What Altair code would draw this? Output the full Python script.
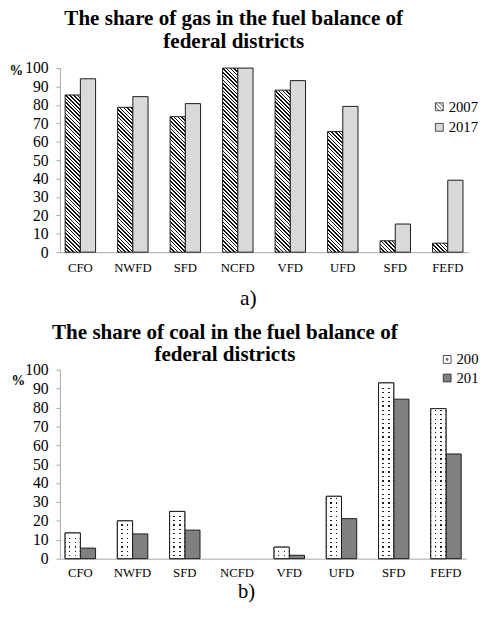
import math
import altair as alt
import pandas as pd

# ---------------- data ----------------
districts = ["CFO", "NWFD", "SFD", "NCFD", "VFD", "UFD", "SFD", "FEFD"]
years = ["2007", "2017"]
gas_2007 = [85.4, 78.7, 73.6, 100, 88.0, 65.5, 6.2, 4.9]
gas_2017 = [94.2, 84.5, 80.7, 100, 93.2, 79.2, 15.3, 39.1]
coal_2007 = [13.6, 20.0, 25.0, 0, 6.1, 33.0, 93.0, 79.4]
coal_2017 = [5.6, 13.1, 15.1, 0, 1.8, 21.2, 84.4, 55.4]
y_ticks = list(range(0, 101, 10))

SERIF = "Liberation Serif"
CLEAR = "rgba(255,255,255,0)"

TOP_W, TOP_H = 417, 188
BOT_W, BOT_H = 415, 193
PAD_IN, PAD_OUT = 0.42, 0.1


def frame(v07, v17):
    rows = []
    for i, (a, b) in enumerate(zip(v07, v17)):
        rows.append({"idx": i, "year": years[0], "value": a})
        rows.append({"idx": i, "year": years[1], "value": b})
    return pd.DataFrame(rows)


def bar_width(width):
    step = width / (len(districts) - PAD_IN + 2 * PAD_OUT)
    return step * (1 - PAD_IN) / 2


def hatch(h, w, period=2.7, dark=0.42, s=1.25):
    """Diagonal hatching as a striped linear gradient (bbox units)."""
    h = max(h, 1.0)
    dg = period * math.sqrt(2) * w / (s * (w * w + h * h))
    gmax = (w + h) * w / (s * (w * w + h * h))
    stops = []
    g = 0.0
    while g < gmax + dg:
        a = min(g, 1.0)
        b = min(g + dark * dg, 1.0)
        c = min(g + dg, 1.0)
        stops += [
            {"offset": a, "color": "#111111"},
            {"offset": b, "color": "#111111"},
            {"offset": b, "color": "#ffffff"},
            {"offset": c, "color": "#ffffff"},
        ]
        g += dg
    return {"gradient": "linear", "x1": 0, "y1": 1, "x2": s, "y2": 1 - s * h / w,
            "stops": stops}


def dot_cols(cols=(0.3, 0.68), dw=0.09):
    stops = [{"offset": 0, "color": CLEAR}]
    for c in cols:
        stops += [
            {"offset": c - dw / 2, "color": CLEAR},
            {"offset": c - dw / 2, "color": "#222222"},
            {"offset": c + dw / 2, "color": "#222222"},
            {"offset": c + dw / 2, "color": CLEAR},
        ]
    stops.append({"offset": 1, "color": CLEAR})
    return {"gradient": "linear", "x1": 0, "y1": 0, "x2": 1, "y2": 0, "stops": stops}


def dot_rows(h, spacing=4.5, size=1.3):
    h = max(h, 1.0)
    stops = [{"offset": 0, "color": "#ffffff"}]
    y = spacing / 2
    while y + size < h - 0.5:
        a, b = y / h, (y + size) / h
        stops += [
            {"offset": a, "color": "#ffffff"},
            {"offset": a, "color": CLEAR},
            {"offset": b, "color": CLEAR},
            {"offset": b, "color": "#ffffff"},
        ]
        y += spacing
    stops.append({"offset": 1, "color": "#ffffff"})
    return {"gradient": "linear", "x1": 0, "y1": 1, "x2": 0, "y2": 0, "stops": stops}


label_expr = "[" + ",".join("'%s'" % d for d in districts) + "][datum.value]"

HATCH_SYM = "M-1,-1H1V1H-1Z M-1,-1L1,1 M0,-1L1,0 M-1,0L0,1"
DOT_SYM = "M-1,-1H1V1H-1Z M-0.2,-0.2H0.2V0.2H-0.2Z"


def x_enc(title, lpad, pad, tx, tsize):
    return alt.X(
        "idx:O",
        scale=alt.Scale(domain=list(range(len(districts))),
                        paddingInner=PAD_IN, paddingOuter=PAD_OUT),
        axis=alt.Axis(
            title=title, labelExpr=label_expr, labelAngle=0, ticks=False,
            labelPadding=lpad, labelFont=SERIF, labelFontSize=13, labelColor="#000",
            domainColor="#a6a6a6", domainWidth=1,
            titleFont=SERIF, titleFontSize=tsize, titleFontWeight="normal",
            titleColor="#000", titlePadding=pad, titleX=tx, titleAlign="center",
        ),
    )


def y_enc(tx, ty):
    return alt.Y(
        "value:Q",
        scale=alt.Scale(domain=[0, 100], nice=False),
        axis=alt.Axis(
            values=y_ticks, grid=False, title="%", titleAngle=0,
            titleX=tx, titleY=ty, titleAlign="center", titleBaseline="middle",
            titleFont=SERIF, titleFontSize=14, titleFontWeight="bold", titleColor="#000",
            labelFont=SERIF, labelFontSize=16, labelColor="#000", labelPadding=8,
            tickSize=4, tickColor="#a6a6a6", domainColor="#a6a6a6",
        ),
    )


def legend(lx, ly, sym07, row_pad, label_expr_=None):
    kw = dict(
        title=None, orient="none", legendX=lx, legendY=ly, direction="vertical",
        labelFont=SERIF, labelFontSize=15, labelColor="#000",
        symbolSize=64, symbolStrokeColor="#222222", symbolStrokeWidth=0.8,
        rowPadding=row_pad, labelOffset=2,
        symbolType=alt.ExprRef(
            expr="datum.value === '2007' ? '%s' : 'square'" % sym07),
    )
    if label_expr_:
        kw["labelExpr"] = label_expr_
    return alt.Legend(**kw)


def title(line1, line2, dx, offset):
    return alt.TitleParams(
        line1, subtitle=line2,
        font=SERIF, fontSize=21.5, fontWeight="bold", color="#000",
        subtitleFont=SERIF, subtitleFontSize=21.5, subtitleFontWeight="bold",
        subtitleColor="#000", subtitlePadding=1.5,
        anchor="middle", frame="group", dx=dx, offset=offset,
    )


# ---------------- top: gas ----------------
gas = frame(gas_2007, gas_2017)
w_top = bar_width(TOP_W)
gas_conds = [
    {"test": "datum.idx == %d && datum.year == '2007'" % i,
     "value": hatch(v / 100 * TOP_H, w_top)}
    for i, v in enumerate(gas_2007)
]

top = alt.Chart(gas).mark_bar(stroke="#1a1a1a", strokeWidth=1).encode(
    x=x_enc("a)", 10, 13, 192, 22),
    xOffset=alt.XOffset("year:N", sort=years),
    y=y_enc(-45, 3),
    fill=alt.Fill(
        "year:N",
        scale=alt.Scale(domain=years, range=["#ffffff", "#d9d9d9"]),
        legend=legend(380, 32, HATCH_SYM, 5),
        condition=gas_conds,
    ),
).properties(
    width=TOP_W, height=TOP_H,
    title=title("The share of gas in the fuel balance of", "federal districts", -31, 8),
)

# ---------------- bottom: coal ----------------
coal = frame(coal_2007, coal_2017)
row_conds = [
    {"test": "datum.idx == %d" % i, "value": dot_rows(v / 100 * BOT_H)}
    for i, v in enumerate(coal_2007)
]

base = alt.Chart(coal).transform_filter("datum.value > 0").encode(
    x=x_enc("b)", 8, 2, 190, 21),
    xOffset=alt.XOffset("year:N", sort=years),
    y=y_enc(-43, 11),
)

coal_bars = base.mark_bar(stroke="#1a1a1a", strokeWidth=1).encode(
    fill=alt.Fill(
        "year:N",
        scale=alt.Scale(domain=years, range=["#ffffff", "#808080"]),
        legend=legend(388, -18, DOT_SYM, 3, "slice(datum.label, 0, 3)"),
    ),
)

coal_cols = base.transform_filter("datum.year == '2007'").mark_bar(
    fill=dot_cols(), strokeWidth=0
)

coal_rows = base.transform_filter("datum.year == '2007'").mark_bar(
    stroke="#1a1a1a", strokeWidth=1
).encode(
    fill=alt.Fill(value="#ffffff", condition=row_conds)
)

bottom = alt.layer(coal_bars, coal_cols, coal_rows).properties(
    width=BOT_W, height=BOT_H,
    title=title("The share of coal in the fuel balance of", "federal districts", -39, -14),
)

chart = alt.vconcat(top, bottom, spacing=14).resolve_scale(
    fill="independent"
).resolve_legend(
    fill="independent"
).properties(
    padding={"left": 1, "top": -6, "right": 0, "bottom": 0},
).configure_view(stroke=None).configure_title(font=SERIF)

chart.save("out.html", embed_options={"renderer": "svg", "actions": False})
